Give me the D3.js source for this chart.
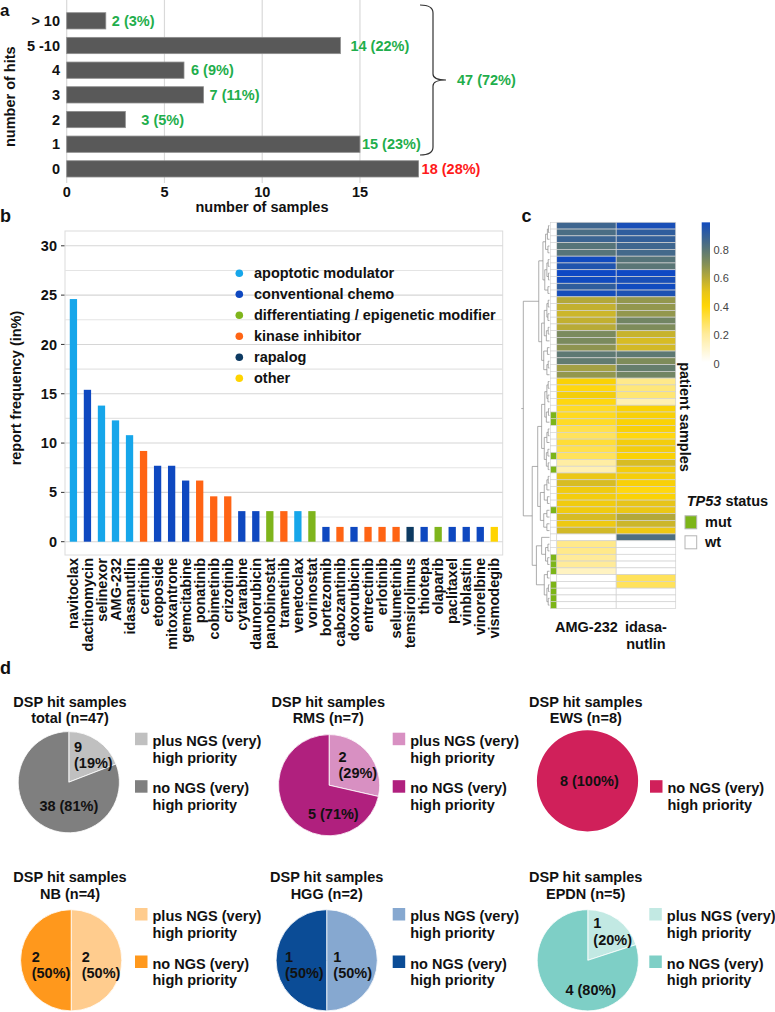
<!DOCTYPE html>
<html><head><meta charset="utf-8">
<script src="https://cdn.jsdelivr.net/npm/d3@7"></script>
<style>
body{margin:0;background:#fff}
svg{display:block}
text{font-family:"Liberation Sans",Arial,sans-serif;font-weight:bold;fill:#111}
</style>
</head><body>
<svg id="chart" width="775" height="1012"></svg>
<script>
// ---------------- DATA ----------------
// panel a
const hitCategories = ["> 10", "5 -10", "4", "3", "2", "1", "0"];
const hitSamples = [2, 14, 6, 7, 3, 15, 18];
const hitPercent = [3, 22, 9, 11, 5, 23, 28];
const hitTicks = [0, 5, 10, 15];
const hitBracketLabel = "47 (72%)";

// panel b
const drugs = ["navitoclax","dactinomycin","selinexor","AMG-232","idasanutlin","ceritinib","etoposide","mitoxantrone","gemcitabine","ponatinib","cobimetinib","crizotinib","cytarabine","daunorubicin","panobinostat","trametinib","venetoclax","vorinostat","bortezomib","cabozantinib","doxorubicin","entrectinib","erlotinib","selumetinib","temsirolimus","thiotepa","olaparib","paclitaxel","vinblastin","vinorelbine","vismodegib"];
const drugFreq = [24.6,15.4,13.8,12.3,10.8,9.2,7.7,7.7,6.2,6.2,4.6,4.6,3.1,3.1,3.1,3.1,3.1,3.1,1.5,1.5,1.5,1.5,1.5,1.5,1.5,1.5,1.5,1.5,1.5,1.5,1.5];
const drugClass = [0,1,0,0,0,3,1,1,1,3,3,3,1,1,2,3,0,2,1,3,1,3,3,3,4,1,2,1,1,1,5];
const classNames = ["apoptotic modulator","conventional chemo","differentiating / epigenetic modifier","kinase inhibitor","rapalog","other"];
const freqTicks = [0, 5, 10, 15, 20, 25, 30];

// panel c
const heatColumns = ["AMG-232", "idasa-nutlin"];
const heatAMG = [0.86,0.83,0.87,0.80,0.80,0.98,0.94,0.99,0.98,0.90,0.97,
  0.60,0.57,0.55,0.57,0.59,0.71,0.71,0.67,0.78,0.77,0.63,0.66,
  0.42,0.38,0.45,0.38,0.35,0.36,0.35,0.30,0.28,0.33,0.30,0.28,0.18,0.15,0.48,0.53,0.46,0.45,0.46,0.46,0.53,0.47,0.54,
  0.00,0.22,0.22,0.20,0.20,0.12,0.00,0.00,0.00,0.00,0.00];
const heatIdasa = [0.96,0.90,0.89,0.86,0.85,0.80,0.79,0.99,0.96,0.98,0.95,
  0.66,0.66,0.66,0.73,0.70,0.56,0.53,0.54,0.78,0.70,0.76,0.73,
  0.22,0.24,0.25,0.15,0.42,0.43,0.42,0.43,0.38,0.45,0.45,0.42,0.53,0.45,0.44,0.43,0.38,0.42,0.50,0.48,0.60,0.55,0.47,
  0.82,0.00,0.00,0.00,0.00,0.00,0.28,0.28,0.00,0.00,0.00];
const tp53Mut = [0,0,0,0,0,0,0,0,0,0,0,
  0,0,0,0,0,0,0,0,0,0,0,0,
  0,0,0,0,0,1,1,0,0,0,0,1,0,1,0,0,0,0,0,1,0,0,0,
  0,0,0,1,1,1,0,1,1,1,1];
// dendrogram: [mergeHeight, left, right], leaves are row indices
const dendroTree = [1.0,
  [0.41,
    [0.25, [0.15, [0.08,[0.04,0,1],2], [0.06,3,4]], [0.18, [0.1,[0.05,5,6],[0.04,7,8]], [0.06,9,10]]],
    [0.3, [0.2, [0.1,[0.05,11,12],[0.06,13,14]], [0.12,[0.05,15,16],17]], [0.22,[0.08,18,19],[0.1,[0.05,20,21],22]]]
  ],
  [0.66,
    [0.45, [0.3, [0.18,[0.1,[0.05,23,24],[0.06,25,26]],[0.12,[0.04,27,28],29]], [0.2,[0.1,[0.05,30,31],32],[0.12,[0.06,33,34],[0.05,35,36]]]],
           [0.35,[0.2,[0.1,[0.05,37,38],39],[0.08,40,41]],[0.22,[0.1,42,43],[0.1,44,45]]]],
    [0.5, [0.3, 46, [0.15,[0.06,47,48],[0.07,49,50]]], [0.2,[0.08,51,52],[0.1,[0.04,53,54],[0.05,55,56]]]]
  ]
];
const colorbarTicks = [0, 0.2, 0.4, 0.6, 0.8];
const tp53Legend = ["mut", "wt"];

// panel d
const pieGroups = ["total (n=47)", "RMS (n=7)", "EWS (n=8)", "NB (n=4)", "HGG (n=2)", "EPDN (n=5)"];
const piePlus = [9, 2, 0, 2, 1, 1];
const pieNo = [38, 5, 8, 2, 1, 4];
const pieLegendText = [["plus NGS (very)", "high priority"], ["no NGS (very)", "high priority"]];

// ---------------- STYLE / LAYOUT ----------------
const FS = 14.5;
const classColors = ["#16a6ea","#0e48c0","#7fb51c","#ff6414","#0d3a62","#ffd400"];
const greenText = "#1fae4c", redText = "#ff1a1a";
const hitLabelNudge = [6, 10, 7, 6, 16, 2, 3];
const piePlusColor = ["#c0c0c0","#d890c2","#f0a0b8","#ffcc8e","#86a8d0","#c2e9e3"];
const pieNoColor = ["#7f7f7f","#b0207e","#d0205a","#ff981c","#0b4c96","#7ecfc6"];
const pieLayout = [
  {cx:68.8, cy:782.2, tx:70, ty:701.7, lx:135, ly:740.7, lab:[[74,746.7,"start",2],[68.8,806,"middle",1]]},
  {cx:329.1, cy:785.2, tx:328.3, ty:701.7, lx:392.7, ly:740.7, lab:[[338.5,756.7,"start",2],[333.3,814.3,"middle",1]]},
  {cx:587.5, cy:780.8, tx:585.8, ty:701.7, lx:650, ly:740.7, lab:[null,[589.3,780.7,"middle",1]]},
  {cx:71.2, cy:960.3, tx:70, ty:877.3, lx:135, ly:916, lab:[[81.7,956.7,"start",2],[31.7,956.7,"start",2]]},
  {cx:326.7, cy:960.3, tx:326.7, ty:877.3, lx:392.7, ly:916, lab:[[333.3,956.7,"start",2],[285,956.7,"start",2]]},
  {cx:587.8, cy:960.3, tx:585.7, ty:877.3, lx:649.3, ly:916, lab:[[593.3,923.3,"start",2],[590.8,990,"middle",1]]}
];

const svg = d3.select("#chart");
function panelLabel(t, x, y, fs){ svg.append("text").attr("x",x).attr("y",y).attr("font-size",fs || 18).text(t); }

// ---------------- PANEL A ----------------
{
  const g = svg.append("g");
  const x = d3.scaleLinear().domain([0, 20]).range([66.7, 457.7]);
  const y = d3.scaleBand().domain(hitCategories).range([4.3, 185.4]).paddingInner(0.34).paddingOuter(0.34);
  g.selectAll("line.grid").data(hitTicks).join("line")
    .attr("x1", d => x(d)).attr("x2", d => x(d)).attr("y1", 0).attr("y2", 183)
    .attr("stroke", "#d9d9d9").attr("stroke-width", 1.2);
  g.selectAll("rect").data(hitSamples).join("rect")
    .attr("x", x(0)).attr("y", (d, i) => y(hitCategories[i]))
    .attr("width", d => x(d) - x(0)).attr("height", y.bandwidth())
    .attr("fill", "#595959").attr("stroke", "#8e8e8e").attr("stroke-width", 0.8);
  g.selectAll("text.val").data(hitSamples).join("text")
    .attr("x", (d, i) => x(d) + hitLabelNudge[i])
    .attr("y", (d, i) => y(hitCategories[i]) + y.bandwidth() / 2).attr("dy", "0.35em")
    .attr("font-size", FS)
    .style("fill", (d, i) => i === hitSamples.length - 1 ? redText : greenText)
    .text((d, i) => `${d} (${hitPercent[i]}%)`);
  g.selectAll("text.cat").data(hitCategories).join("text")
    .attr("x", 60).attr("y", d => y(d) + y.bandwidth() / 2).attr("dy", "0.35em")
    .attr("text-anchor", "end").attr("font-size", FS).text(d => d);
  g.selectAll("text.tick").data(hitTicks).join("text")
    .attr("x", d => x(d)).attr("y", 197).attr("text-anchor", "middle").attr("font-size", FS).text(d => d);
  g.append("text").attr("x", 262).attr("y", 211.5).attr("text-anchor", "middle").attr("font-size", FS).text("number of samples");
  g.append("text").attr("transform", "translate(15,96.7) rotate(-90)").attr("text-anchor", "middle").attr("font-size", FS).text("number of hits");
  // bracket
  const yt = 5, yb = 155, ym = 80, x0 = 420, x1 = 433, x2 = 446;
  const p = d3.path();
  p.moveTo(x0, yt); p.quadraticCurveTo(x1, yt, x1, yt + 8); p.lineTo(x1, ym - 6);
  p.quadraticCurveTo(x1, ym, x2, ym); p.quadraticCurveTo(x1, ym, x1, ym + 6);
  p.lineTo(x1, yb - 8); p.quadraticCurveTo(x1, yb, x0, yb);
  g.append("path").attr("d", p.toString()).attr("fill", "none").attr("stroke", "#333").attr("stroke-width", 1.2);
  g.append("text").attr("x", 457).attr("y", ym).attr("dy", "0.35em").attr("font-size", FS).style("fill", greenText).text(hitBracketLabel);
  panelLabel("a", 0, 15.5, 17);
}

// ---------------- PANEL B ----------------
{
  const g = svg.append("g");
  const x = d3.scaleBand().domain(drugs).range([65, 502.7]).paddingInner(0.48).paddingOuter(0.34);
  const y = d3.scaleLinear().domain([0, 30]).range([541.7, 245.8]);
  const gridVals = d3.range(0, 30.01, 2.5);
  g.append("rect").attr("x", 65).attr("y", 231).attr("width", 437.7).attr("height", 324)
    .attr("fill", "none").attr("stroke", "#dcdcdc");
  g.selectAll("line.grid").data(gridVals).join("line")
    .attr("x1", 65).attr("x2", 502.7).attr("y1", d => y(d)).attr("y2", d => y(d))
    .attr("stroke", d => d % 5 === 0 ? "#d6d6d6" : "#e4e4e4").attr("stroke-width", 1.1);
  g.selectAll("line.tk").data(freqTicks).join("line")
    .attr("x1", 61).attr("x2", 64.5).attr("y1", d => y(d)).attr("y2", d => y(d)).attr("stroke", "#333");
  g.selectAll("text.tk").data(freqTicks).join("text")
    .attr("x", 57).attr("y", d => y(d)).attr("dy", "0.35em").attr("text-anchor", "end").attr("font-size", FS).text(d => d);
  g.selectAll("rect.bar").data(drugFreq).join("rect")
    .attr("x", (d, i) => x(drugs[i])).attr("width", x.bandwidth())
    .attr("y", d => y(d)).attr("height", d => y(0) - y(d))
    .attr("fill", (d, i) => classColors[drugClass[i]]);
  g.selectAll("text.drug").data(drugs).join("text")
    .attr("transform", d => `translate(${x(d) + x.bandwidth() / 2},558) rotate(-90)`)
    .attr("dy", "0.35em").attr("text-anchor", "end").attr("font-size", FS).text(d => d);
  g.append("text").attr("transform", "translate(21,388) rotate(-90)").attr("text-anchor", "middle")
    .attr("font-size", FS).text("report frequency (in%)");
  const lg = g.selectAll("g.leg").data(classNames).join("g")
    .attr("transform", (d, i) => `translate(239.3,${273.3 + i * 21})`);
  lg.append("circle").attr("r", 3.8).attr("fill", (d, i) => classColors[i]);
  lg.append("text").attr("x", 14.7).attr("dy", "0.35em").attr("font-size", FS).text(d => d);
  panelLabel("b", 0, 221.7);
}

// ---------------- PANEL C ----------------
{
  const g = svg.append("g");
  const rows = d3.range(heatAMG.length);
  const y = d3.scaleBand().domain(rows).range([222.3, 608.5]);
  const x = d3.scaleBand().domain(heatColumns).range([556.7, 675.7]);
  const color = d3.scaleLinear()
    .domain([0, 0.2, 0.4, 0.5, 0.6, 0.7, 0.8, 0.9, 1])
    .range(["#ffffff","#ffeb99","#ffd500","#e6c41a","#b3a83a","#7e8c5a","#567479","#2f5d9d","#0a46c8"]);
  const cols = [heatAMG, heatIdasa];
  cols.forEach((vals, ci) => {
    g.selectAll(`rect.c${ci}`).data(vals).join("rect")
      .attr("x", x(heatColumns[ci])).attr("width", x.bandwidth())
      .attr("y", (d, i) => y(i)).attr("height", y.bandwidth())
      .attr("fill", d => color(d)).attr("stroke", "#d2d2d2").attr("stroke-width", 0.7);
  });
  // annotation column
  g.selectAll("rect.ann").data(tp53Mut).join("rect")
    .attr("x", 550.5).attr("width", 6).attr("y", (d, i) => y(i)).attr("height", y.bandwidth())
    .attr("fill", d => d ? "#7cb518" : "#fff").attr("stroke", "#d2d2d2").attr("stroke-width", 0.6);
  // dendrogram
  const dx = d3.scaleLinear().domain([0, 1]).range([549.5, 523.3]);
  const root = d3.hierarchy(dendroTree, d => Array.isArray(d) ? d.slice(1) : null);
  root.eachAfter(n => {
    if (n.children) { n.h = n.data[0]; n.py = (n.children[0].py + n.children[1].py) / 2; }
    else { n.h = 0; n.py = y(n.data) + y.bandwidth() / 2; }
  });
  const p = d3.path();
  root.each(n => {
    if (!n.children) return;
    const [a, b] = n.children;
    p.moveTo(dx(a.h), a.py); p.lineTo(dx(n.h), a.py); p.lineTo(dx(n.h), b.py); p.lineTo(dx(b.h), b.py);
  });
  p.moveTo(dx(1), root.py); p.lineTo(dx(1) - 2, root.py);
  g.append("path").attr("d", p.toString()).attr("fill", "none").attr("stroke", "#8a8a8a").attr("stroke-width", 0.7);
  // column labels
  g.append("text").attr("x", x("AMG-232") + x.bandwidth() / 2).attr("y", 627.3).attr("dy", "0.35em")
    .attr("text-anchor", "middle").attr("font-size", FS).text("AMG-232");
  const t2 = g.append("text").attr("text-anchor", "middle").attr("font-size", FS);
  t2.append("tspan").attr("x", x("idasa-nutlin") + x.bandwidth() / 2).attr("y", 627.3).attr("dy", "0.35em").text("idasa-");
  t2.append("tspan").attr("x", x("idasa-nutlin") + x.bandwidth() / 2).attr("y", 644).attr("dy", "0.35em").text("nutlin");
  g.append("text").attr("transform", "translate(680,417) rotate(90)").attr("text-anchor", "middle")
    .attr("font-size", FS).text("patient samples");
  // colorbar
  const cb = d3.scaleLinear().domain([0, 1]).range([362, 219.5]);
  const grad = svg.append("defs").append("linearGradient").attr("id", "cbg")
    .attr("x1", 0).attr("x2", 0).attr("y1", 1).attr("y2", 0);
  d3.range(0, 1.001, 0.05).forEach(v => grad.append("stop").attr("offset", v).attr("stop-color", color(v * 0.98)));
  g.append("rect").attr("x", 701.7).attr("width", 8.3).attr("y", cb(0.98)).attr("height", cb(0) - cb(0.98)).attr("fill", "url(#cbg)");
  g.selectAll("text.cbt").data(colorbarTicks).join("text")
    .attr("x", 713.5).attr("y", d => cb(d) + 2).attr("dy", "0.35em").attr("font-size", 11)
    .style("font-weight", "normal").style("fill", "#444").text(d => d);
  // TP53 legend
  const tl = g.append("text").attr("x", 686.7).attr("y", 501).attr("dy", "0.35em").attr("font-size", FS);
  tl.append("tspan").style("font-style", "italic").text("TP53");
  tl.append("tspan").text(" status");
  const lg = g.selectAll("g.tpl").data(tp53Legend).join("g").attr("transform", (d, i) => `translate(685,${522.3 + i * 20})`);
  lg.append("rect").attr("x", 0).attr("y", -6.5).attr("width", 11.7).attr("height", 13)
    .attr("fill", (d, i) => i === 0 ? "#7cb518" : "#fff").attr("stroke", "#b5b5b5");
  lg.append("text").attr("x", 20).attr("dy", "0.35em").attr("font-size", FS).text(d => d);
  panelLabel("c", 521.5, 221.7);
}

// ---------------- PANEL D ----------------
{
  const g = svg.append("g");
  const pie = d3.pie().sort(null).value(d => d);
  const arc = d3.arc().innerRadius(0).outerRadius(50.6);
  pieGroups.forEach((name, k) => {
    const L = pieLayout[k];
    const vals = [piePlus[k], pieNo[k]];
    const total = vals[0] + vals[1];
    const colors = [piePlusColor[k], pieNoColor[k]];
    const pg = g.append("g").attr("transform", `translate(${L.cx},${L.cy})`);
    pg.selectAll("path").data(pie(vals)).join("path")
      .attr("d", arc).attr("fill", (d, i) => colors[i]).attr("stroke", "#fff").attr("stroke-width", d => d.value > 0 && d.value < total ? 0.8 : 0);
    // title
    const tt = g.append("text").attr("text-anchor", "middle").attr("font-size", FS);
    tt.append("tspan").attr("x", L.tx).attr("y", L.ty).attr("dy", "0.35em").text("DSP hit samples");
    tt.append("tspan").attr("x", L.tx).attr("y", L.ty + 16.6).attr("dy", "0.35em").text(name);
    // slice labels
    vals.forEach((v, i) => {
      const lab = L.lab[i];
      if (!lab || v === 0) return;
      const pct = Math.round(v / total * 100);
      const t = g.append("text").attr("text-anchor", lab[2]).attr("font-size", FS);
      if (lab[3] === 2) {
        t.append("tspan").attr("x", lab[0]).attr("y", lab[1]).attr("dy", "0.35em").text(v);
        t.append("tspan").attr("x", lab[0]).attr("y", lab[1] + 16.6).attr("dy", "0.35em").text(`(${pct}%)`);
      } else {
        t.attr("x", lab[0]).attr("y", lab[1]).attr("dy", "0.35em").text(`${v} (${pct}%)`);
      }
    });
    // legend
    vals.forEach((v, i) => {
      if (v === 0) return;
      const ly = L.ly + i * 47.5;
      g.append("rect").attr("x", L.lx).attr("y", ly - 8).attr("width", 12.5).attr("height", 12.5).attr("fill", colors[i]);
      const t = g.append("text").attr("font-size", FS);
      t.append("tspan").attr("x", L.lx + 17.5).attr("y", ly).attr("dy", "0.35em").text(pieLegendText[i][0]);
      t.append("tspan").attr("x", L.lx + 17.5).attr("y", ly + 16.8).attr("dy", "0.35em").text(pieLegendText[i][1]);
    });
  });
  panelLabel("d", 0, 674);
}
</script>
</body></html>
